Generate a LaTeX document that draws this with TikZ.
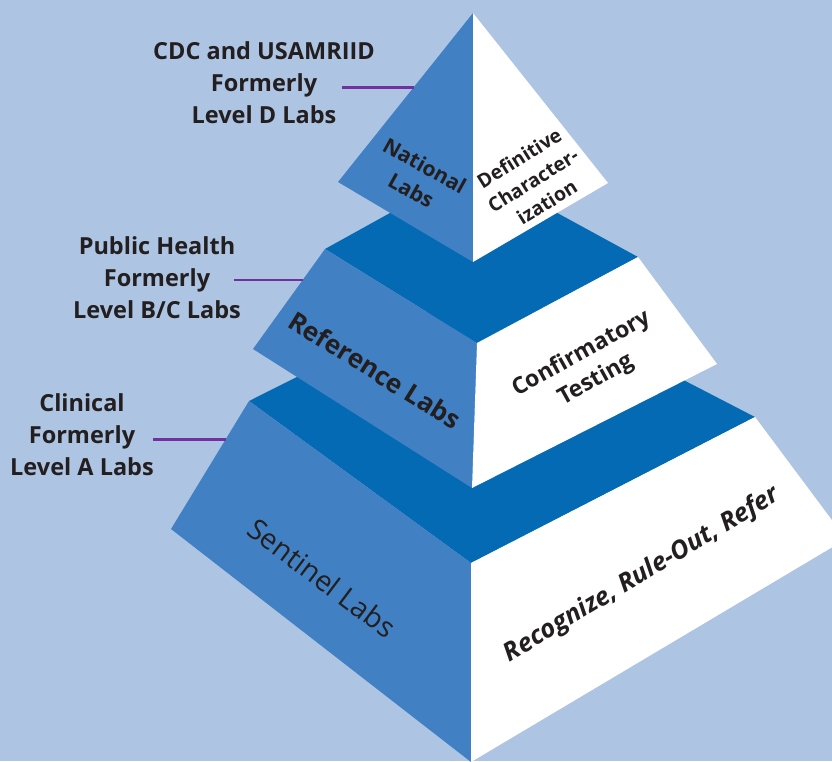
\documentclass[tikz,border=0pt]{standalone}
\usepackage{fontspec}
\setmainfont{Open Sans}
\usepackage{tikz}
\usetikzlibrary{calc}
\definecolor{skyback}{RGB}{173,196,227}
\definecolor{facemid}{RGB}{65,128,194}
\definecolor{facetop}{RGB}{4,106,180}
\definecolor{leaderline}{RGB}{112,48,160}
\definecolor{labeltext}{RGB}{35,31,32}

\begin{document}
\begin{tikzpicture}[
  x=1pt, y=-1pt,
  tierside/.style={fill=facemid},
  tiertop/.style={fill=facetop},
  tierfront/.style={fill=white},
  leader/.style={draw=leaderline, line width=2.6pt},
  levellabel/.style={
    align=center,
    text=labeltext,
    inner sep=0pt,
    font=\bfseries\fontsize{23.5}{32}\selectfont
  },
  facelabel/.style={align=center, text=labeltext, inner sep=0pt}
]
\useasboundingbox (0,0) rectangle (832,761);
\clip (0,0) rectangle (832,761);
\fill[skyback] (0,0) rectangle (832,761);

% corners of the three tiers
\coordinate (baseL) at (249,401);
\coordinate (baseB) at (490,280);
\coordinate (baseR) at (755,417);
\coordinate (baseF) at (471,563);
\coordinate (baseLL) at (171,529);
\coordinate (baseRR) at (846,539);
\coordinate (baseFF) at (471,762);

\coordinate (midL) at (325,249);
\coordinate (midB) at (473,167);
\coordinate (midR) at (638,257);
\coordinate (midF) at (477,343);
\coordinate (midLL) at (253,349);
\coordinate (midRR) at (717,364);
\coordinate (midFF) at (472,488);

\coordinate (apex) at (473,13);
\coordinate (apexL) at (338,182);
\coordinate (apexR) at (608,183);
\coordinate (apexF) at (473,262);

\fill[tiertop] (baseL) -- (baseB) -- (baseR) -- (baseF) -- cycle;
\fill[tierside] (baseL) -- (baseF) -- (baseFF) -- (baseLL) -- cycle;
\fill[tierfront] (baseF) -- (baseR) -- (baseRR) -- (baseFF) -- cycle;

\fill[tiertop] (midL) -- (midB) -- (midR) -- (midF) -- cycle;
\fill[tierside] (midL) -- (midF) -- (midFF) -- (midLL) -- cycle;
\fill[tierfront] (midF) -- (midR) -- (midRR) -- (midFF) -- cycle;

\fill[tierside] (apex) -- (apexF) -- (apexL) -- cycle;
\fill[tierfront] (apex) -- (apexR) -- (apexF) -- cycle;

\node[facelabel, rotate=-29, font=\bfseries\fontsize{21}{28}\selectfont]
  (national) at (418,178) {National\\Labs};
\node[facelabel, rotate=32, font=\bfseries\fontsize{19.5}{26}\selectfont]
  (definitive) at (533,180) {Definitive\\Character-\\ization};
\node[facelabel, rotate=-32, font=\bfseries\fontsize{26}{30}\selectfont]
  (reference) at (375,370) {Reference Labs};
\node[facelabel, rotate=29, font=\bfseries\fontsize{23}{30}\selectfont]
  (confirm) at (589,367) {Confirmatory\\Testing};
\node[facelabel, rotate=-37, font=\fontsize{28.5}{34}\selectfont]
  (sentinel) at (322,578) {Sentinel Labs};
\node[facelabel, rotate=31, font=\bfseries\itshape\fontsize{25.5}{30}\selectfont]
  (recognize) at (642,575) {Recognize, Rule-Out, Refer};

\node[levellabel] (cdc) at (264,83) {CDC and USAMRIID\\Formerly\\Level D Labs};
\node[levellabel] (public) at (157,278) {Public Health\\Formerly\\Level B/C Labs};
\node[levellabel] (clinical) at (82,435) {Clinical\\Formerly\\Level A Labs};

\coordinate (cdcpin) at ($(apex)!0.44!(apexL)$);
\coordinate (publicpin) at ($(midL)!0.31!(midLL)$);
\coordinate (clinicalpin) at ($(baseL)!0.30!(baseLL)$);
\coordinate (cdcstart) at (342,0);
\coordinate (publicstart) at (234,0);
\coordinate (clinicalstart) at (153,0);

\draw[leader] (cdcstart |- cdcpin) -- (cdcpin);
\draw[leader] (publicstart |- publicpin) -- (publicpin);
\draw[leader] (clinicalstart |- clinicalpin) -- (clinicalpin);
\end{tikzpicture}
\end{document}
